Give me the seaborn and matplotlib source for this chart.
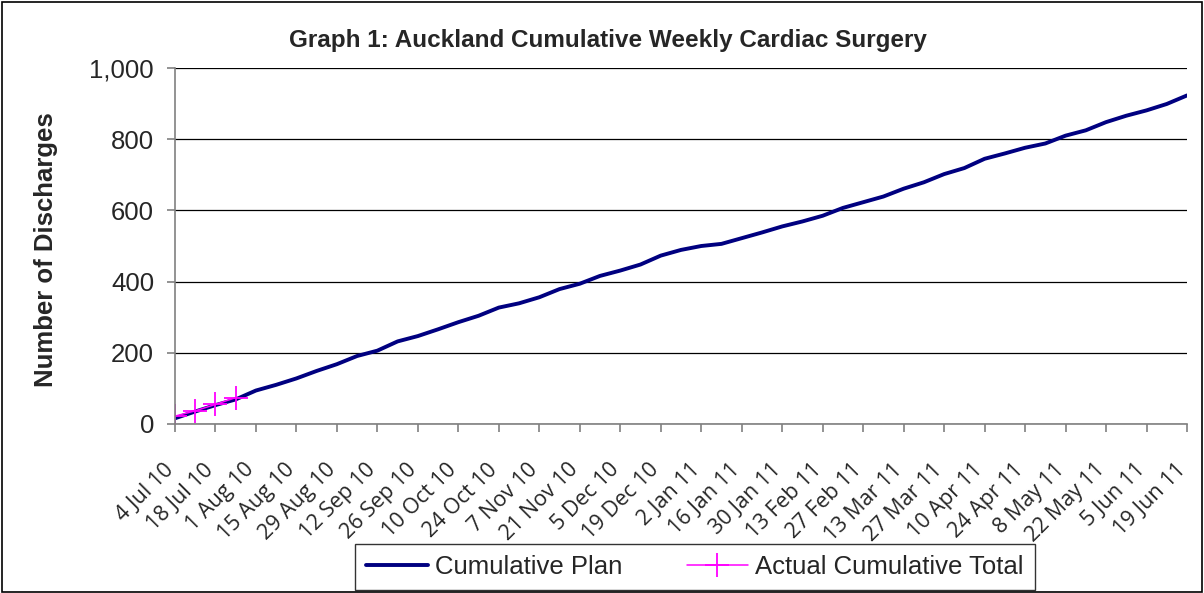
import numpy as np
import pandas as pd
import matplotlib
matplotlib.use('Agg')
import matplotlib.pyplot as plt
import seaborn as sns
from matplotlib.patches import Rectangle
from matplotlib.transforms import ScaledTranslation

# cumulative plan, one value per week from 4 Jul 10 to 19 Jun 11
plan_cum = [16, 35, 53, 69, 94, 110, 128, 149, 168, 191,
            206, 232, 247, 266, 286, 304, 327, 339, 356, 379,
            394, 416, 431, 448, 473, 489, 500, 506, 522, 538,
            555, 569, 585, 607, 623, 639, 661, 679, 702, 719,
            745, 760, 776, 788, 810, 825, 848, 866, 881, 899, 923]

# actual cumulative total (first four weeks reported)
actual_cum = [22, 37, 55, 74]

tick_labels = ['4 Jul 10', '18 Jul 10', '1 Aug 10', '15 Aug 10', '29 Aug 10',
               '12 Sep 10', '26 Sep 10', '10 Oct 10', '24 Oct 10', '7 Nov 10',
               '21 Nov 10', '5 Dec 10', '19 Dec 10', '2 Jan 11', '16 Jan 11',
               '30 Jan 11', '13 Feb 11', '27 Feb 11', '13 Mar 11', '27 Mar 11',
               '10 Apr 11', '24 Apr 11', '8 May 11', '22 May 11', '5 Jun 11',
               '19 Jun 11']

sns.set_theme(style='white')
plt.rcParams['font.family'] = ['Liberation Sans', 'DejaVu Sans']

plan_df = pd.DataFrame({'week': np.arange(len(plan_cum)), 'value': plan_cum})
actual_df = pd.DataFrame({'week': np.arange(len(actual_cum)), 'value': actual_cum})

fig = plt.figure(figsize=(12.04, 5.93), dpi=100)
ax = fig.add_axes([0.1453, 0.285, 0.8406, 0.6003])

sns.lineplot(data=plan_df, x='week', y='value', ax=ax, color='#000080',
             linewidth=2.8, label='Cumulative Plan')
sns.lineplot(data=actual_df, x='week', y='value', ax=ax, color='#FF00FF',
             linewidth=1.1, marker='+', markersize=17, markeredgewidth=1.3,
             markeredgecolor='#FF00FF', label='Actual Cumulative Total')

ax.set_xlim(0, len(plan_cum) - 1)
ax.set_ylim(0, 1000)
ax.set_yticks(range(0, 1001, 200))
ax.set_yticklabels([f'{v:,}' for v in range(0, 1001, 200)], fontsize=18.5)
ax.set_xticks(np.arange(0, len(plan_cum), 2))
ax.set_xticklabels(tick_labels, rotation=45, ha='right', rotation_mode='anchor',
                   fontsize=15.5, family=['Open Sans', 'DejaVu Sans'])
ax.set_xlabel('')
ax.set_ylabel('')

ax.grid(axis='y', color='black', linewidth=0.9)
ax.grid(axis='x', visible=False)
for side in ['top', 'right']:
    ax.spines[side].set_visible(False)
for side in ['left', 'bottom']:
    ax.spines[side].set_color('#808080')
    ax.spines[side].set_linewidth(1.2)
ax.tick_params(axis='both', which='major', direction='out', length=6,
               color='#808080', width=1.2, bottom=True, left=True)
ax.tick_params(axis='x', pad=5)
ax.tick_params(axis='y', pad=9)

# shift the slanted date labels down-left like the original (after tick_params)
shift = ScaledTranslation(-0.12, -0.20, fig.dpi_scale_trans)
for lbl in ax.get_xticklabels():
    lbl.set_transform(lbl.get_transform() + shift)

ax.get_legend().remove()
handles, labels = ax.get_legend_handles_labels()
leg = fig.legend(handles, labels, loc='center', bbox_to_anchor=(695 / 1204, 1 - 567 / 593),
                 ncol=2, frameon=True, fancybox=False, edgecolor='black',
                 fontsize=18.5, handlelength=2.4, columnspacing=2.5, handletextpad=0.28,
                 borderpad=0.42)
leg.get_frame().set_linewidth(1.0)

fig.text(608 / 1204, 1 - 40 / 593, 'Graph 1: Auckland Cumulative Weekly Cardiac Surgery',
         ha='center', va='center', fontsize=17.5, fontweight='bold')
fig.text(46 / 1204, 1 - 250 / 593, 'Number of Discharges', rotation=90,
         ha='center', va='center', fontsize=18.5, fontweight='bold')

fig.patches.append(Rectangle((0.0015, 0.002), 0.997, 0.995, transform=fig.transFigure,
                             fill=False, edgecolor='black', linewidth=1.2))

fig.savefig('out.png', dpi=100, facecolor='white')
